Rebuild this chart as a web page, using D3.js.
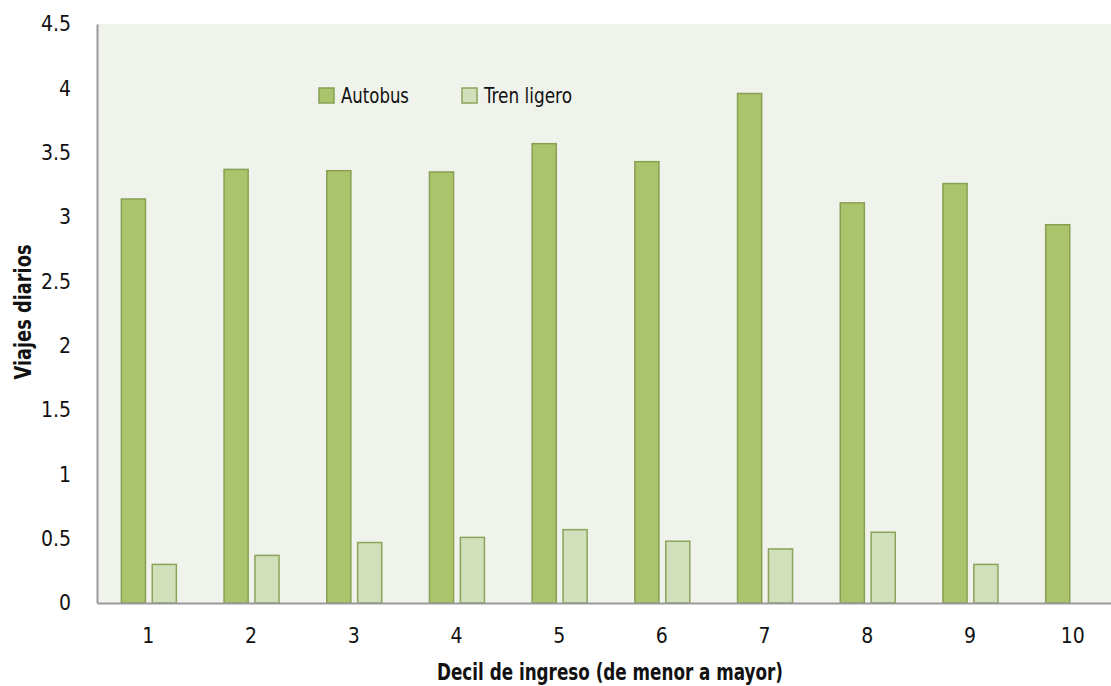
<!DOCTYPE html>
<html>
<head>
<meta charset="utf-8">
<script src="https://d3js.org/d3.v7.min.js"></script>
<style>
  body { margin: 0; background: #fff; overflow: hidden; }
  text { font-family: "DejaVu Sans Condensed", "DejaVu Sans", sans-serif; font-stretch: condensed; }
</style>
</head>
<body>
<div id="chart"></div>
<script>
// data
var deciles = ["1", "2", "3", "4", "5", "6", "7", "8", "9", "10"];
var autobus = [3.14, 3.37, 3.36, 3.35, 3.57, 3.43, 3.96, 3.11, 3.26, 2.94];
var tren = [0.30, 0.37, 0.47, 0.51, 0.57, 0.48, 0.42, 0.55, 0.30, 0];
var yTicks = [0, 0.5, 1, 1.5, 2, 2.5, 3, 3.5, 4, 4.5];
var seriesNames = ["Autobus", "Tren ligero"];

var width = 1111, height = 686;
var margin = {top: 24, left: 97, bottom: 83};
// the plot area runs a little past the right edge of the picture
var w = 1027,
    h = height - margin.top - margin.bottom;

var fills = ["#abc46c", "#d1dfbb"];
var strokes = ["#87a053", "#8aa45a"];

var svg = d3.select("#chart").append("svg")
  .attr("width", width).attr("height", height);
var g = svg.append("g").attr("transform", "translate(" + margin.left + "," + margin.top + ")");

g.append("rect").attr("width", w).attr("height", h).attr("fill", "#f0f3ec");

var x = d3.scaleBand().domain(deciles).range([0, w]);
var x1 = d3.scaleBand().domain(seriesNames).range([x.bandwidth() / 2 - 27, x.bandwidth() / 2 + 28]).paddingInner(0.22);
var y = d3.scaleLinear().domain([0, 4.5]).range([h, 0]);

var rows = deciles.map(function(d, i) { return {cat: d, vals: [autobus[i], tren[i]]}; });

var grp = g.selectAll(".grp").data(rows).enter().append("g")
  .attr("transform", function(d) { return "translate(" + x(d.cat) + ",0)"; });
grp.selectAll("rect").data(function(d) {
    return d.vals.map(function(v, k) { return {k: k, v: v}; }).filter(function(e) { return e.v > 0; });
  })
  .enter().append("rect")
  .attr("x", function(d) { return x1(seriesNames[d.k]); })
  .attr("width", x1.bandwidth())
  .attr("y", function(d) { return y(d.v); })
  .attr("height", function(d) { return h - y(d.v); })
  .attr("fill", function(d) { return fills[d.k]; })
  .attr("stroke", function(d) { return strokes[d.k]; })
  .attr("stroke-width", 1.5);

// axes
var yAxis = g.append("g").call(d3.axisLeft(y).tickValues(yTicks).tickSize(0).tickPadding(26).tickFormat(d3.format("")));
yAxis.select(".domain").attr("stroke", "#999").attr("stroke-width", 2);
yAxis.selectAll("text").attr("font-size", 21).attr("fill", "#111")
  .style("font-family", "'DejaVu Sans Condensed', sans-serif");

var xAxis = g.append("g").attr("transform", "translate(0," + h + ")")
  .call(d3.axisBottom(x).tickSize(0).tickPadding(25));
xAxis.select(".domain").attr("stroke", "#999").attr("stroke-width", 2);
xAxis.selectAll("text").attr("font-size", 21).attr("fill", "#111")
  .style("font-family", "'DejaVu Sans Condensed', sans-serif");

// axis titles
svg.append("text")
  .attr("x", 610).attr("y", 680)
  .attr("text-anchor", "middle")
  .attr("font-size", 23).attr("font-weight", "bold").attr("fill", "#111")
  .attr("textLength", 346).attr("lengthAdjust", "spacingAndGlyphs")
  .text("Decil de ingreso (de menor a mayor)");
svg.append("text")
  .attr("transform", "translate(31,312) rotate(-90)")
  .attr("text-anchor", "middle")
  .attr("font-size", 23).attr("font-weight", "bold").attr("fill", "#111")
  .attr("textLength", 135).attr("lengthAdjust", "spacingAndGlyphs")
  .text("Viajes diarios");

// legend
var legX = [319, 462];
var legW = [68, 88];
var leg = svg.selectAll(".leg").data(seriesNames).enter().append("g")
  .attr("transform", function(d, i) { return "translate(" + legX[i] + ",88)"; });
leg.append("rect").attr("width", 15).attr("height", 15)
  .attr("fill", function(d, i) { return fills[i]; })
  .attr("stroke", function(d, i) { return strokes[i]; })
  .attr("stroke-width", 1.5);
leg.append("text").attr("x", 22).attr("y", 15)
  .attr("font-size", 21).attr("fill", "#111")
  .attr("textLength", function(d, i) { return legW[i]; }).attr("lengthAdjust", "spacingAndGlyphs")
  .text(function(d) { return d; });
</script>
</body>
</html>
